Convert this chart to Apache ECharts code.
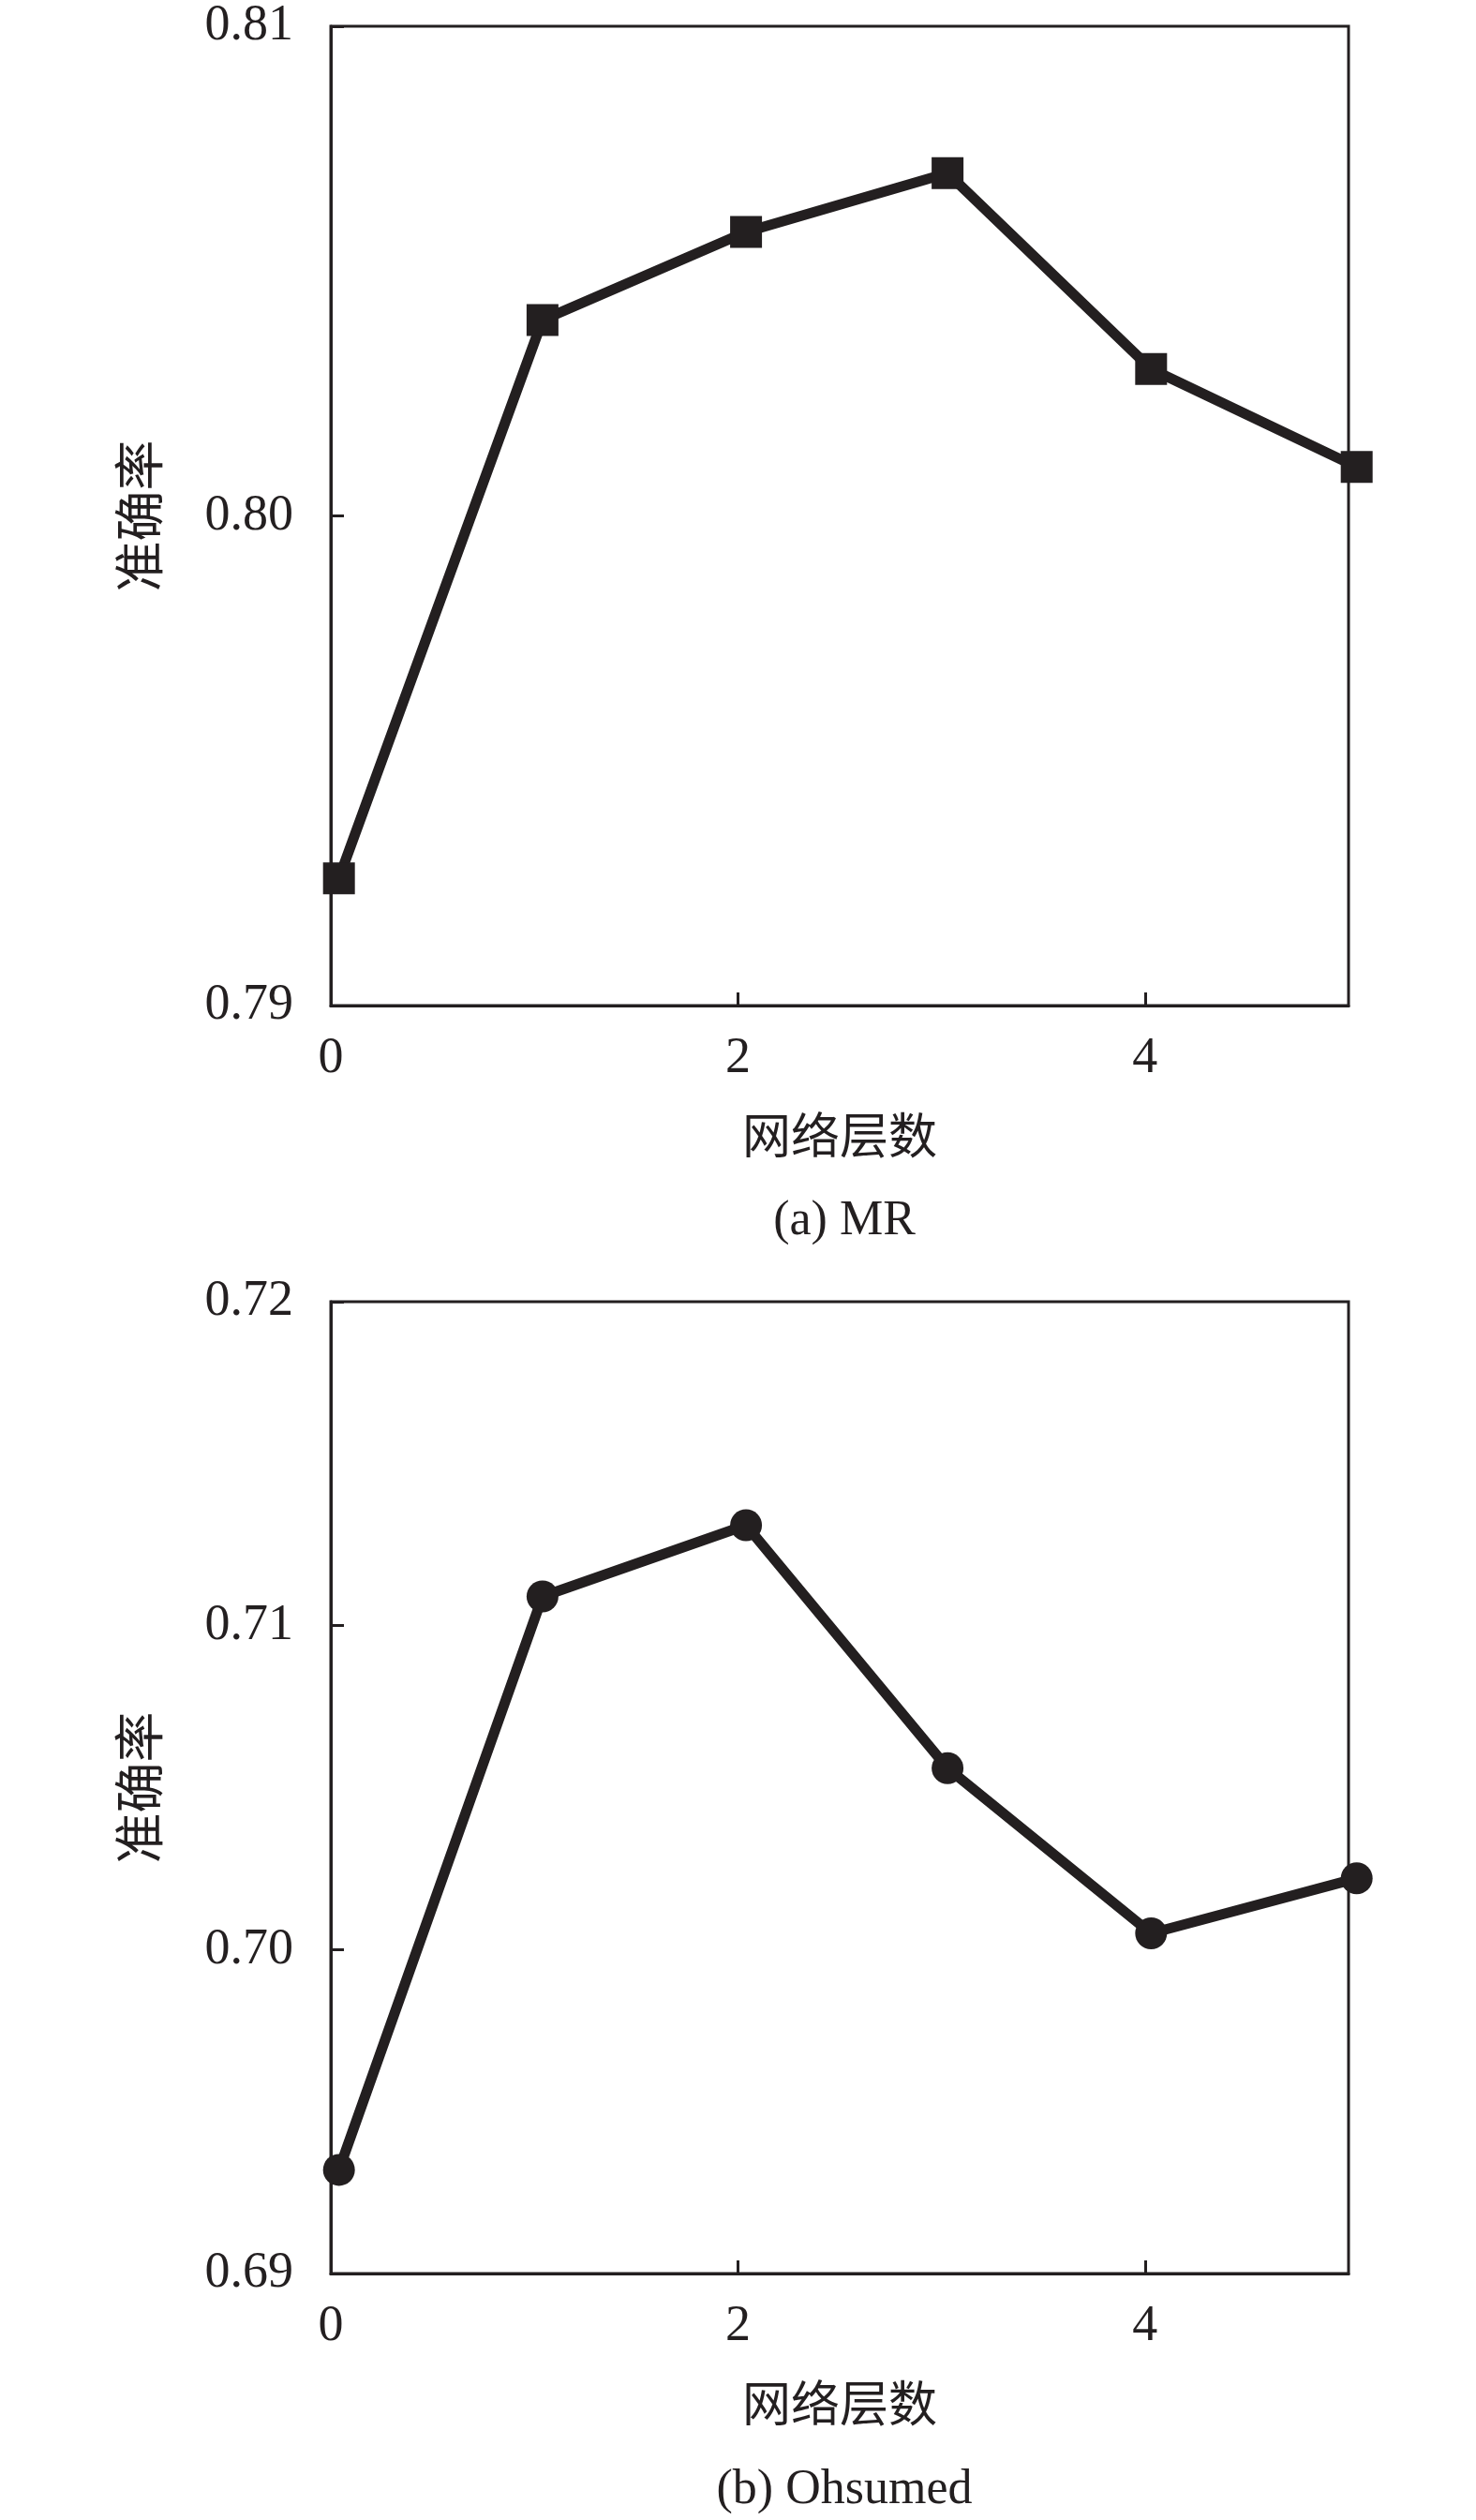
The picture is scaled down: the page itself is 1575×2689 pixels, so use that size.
<!DOCTYPE html>
<html>
<head>
<meta charset="utf-8">
<title>网络层数 vs 准确率</title>
<script src="https://cdn.jsdelivr.net/npm/echarts@6/dist/echarts.min.js"></script>
<style>
    html, body {margin: 0; padding: 0; background: #fff;}
    #chart {width: 1575px; height: 2689px;}
</style>
</head>
<body>
<div id="chart"></div>
<script>
// x positions of the points (number of layers)
var layerPos = [0.04, 1.04, 2.04, 3.03, 4.03, 5.04];
// (a) MR
var mrAcc = [0.7926, 0.8040, 0.8058, 0.8070, 0.8030, 0.8010];
// (b) Ohsumed
var ohsumedAcc = [0.6932, 0.7109, 0.7131, 0.7056, 0.7005, 0.7022];

var xTicks = {min: 0, max: 5, interval: 2};
var mrTicks = {min: 0.79, max: 0.81, interval: 0.01};
var ohTicks = {min: 0.69, max: 0.72, interval: 0.01};

var xName = '网络层数';
var yName = '准确率';
var captions = ['(a) MR', '(b) Ohsumed'];

var ink = '#231f20';
var serif = 'Liberation Serif';
var cjk = 'Noto Sans CJK SC';

function pairs(xs, ys) {
    var out = [];
    for (var i = 0; i < ys.length; i++) {
        out.push([xs[i], ys[i]]);
    }
    return out;
}

function makeXAxis(idx) {
    return {
        type: 'value',
        gridIndex: idx,
        min: xTicks.min,
        max: xTicks.max,
        interval: xTicks.interval,
        name: xName,
        nameLocation: 'middle',
        nameGap: 112,
        nameTextStyle: {fontFamily: cjk, fontSize: 52, color: ink},
        axisLine: {show: true, onZero: false, lineStyle: {color: ink, width: 3}},
        axisTick: {show: true, inside: true, length: 14, lineStyle: {color: ink, width: 3}},
        axisLabel: {
            margin: 30,
            showMaxLabel: false,
            fontFamily: serif,
            fontSize: 54,
            color: ink
        },
        splitLine: {show: false}
    };
}

function makeYAxis(idx, t) {
    return {
        type: 'value',
        gridIndex: idx,
        min: t.min,
        max: t.max,
        interval: t.interval,
        name: yName,
        nameLocation: 'middle',
        nameGap: 178,
        nameTextStyle: {fontFamily: cjk, fontSize: 54, color: ink},
        axisLine: {show: true, onZero: false, lineStyle: {color: ink, width: 3}},
        axisTick: {show: true, inside: true, length: 14, lineStyle: {color: ink, width: 3}},
        axisLabel: {
            margin: 40,
            fontFamily: serif,
            fontSize: 54,
            color: ink,
            formatter: function (v) {
                return v.toFixed(2);
            }
        },
        splitLine: {show: false}
    };
}

function makeSeries(idx, ys, symbol) {
    return {
        type: 'line',
        xAxisIndex: idx,
        yAxisIndex: idx,
        data: pairs(layerPos, ys),
        clip: false,
        symbol: symbol,
        symbolSize: 34,
        showSymbol: true,
        lineStyle: {color: ink, width: 11},
        itemStyle: {color: ink, borderWidth: 0},
        animation: false
    };
}

var dom = document.getElementById('chart');
var myChart = echarts.init(dom, null, {renderer: 'canvas'});
var option = null;
option = {
    backgroundColor: '#fff',
    animation: false,
    title: [
        {
            text: captions[0],
            left: 896,
            top: 1272,
            textAlign: 'center',
            textStyle: {fontFamily: serif, fontSize: 52, fontWeight: 'normal', color: ink}
        },
        {
            text: captions[1],
            left: 896,
            top: 2626,
            textAlign: 'center',
            textStyle: {fontFamily: serif, fontSize: 52, fontWeight: 'normal', color: ink}
        }
    ],
    grid: [
        {left: 353, top: 28, width: 1086, height: 1045, show: true, borderColor: ink, borderWidth: 3},
        {left: 353, top: 1389, width: 1086, height: 1037, show: true, borderColor: ink, borderWidth: 3}
    ],
    xAxis: [makeXAxis(0), makeXAxis(1)],
    yAxis: [makeYAxis(0, mrTicks), makeYAxis(1, ohTicks)],
    series: [
        makeSeries(0, mrAcc, 'rect'),
        makeSeries(1, ohsumedAcc, 'circle')
    ]
};

if (option && typeof option === "object") {
    myChart.setOption(option, true);
}
</script>
</body>
</html>
